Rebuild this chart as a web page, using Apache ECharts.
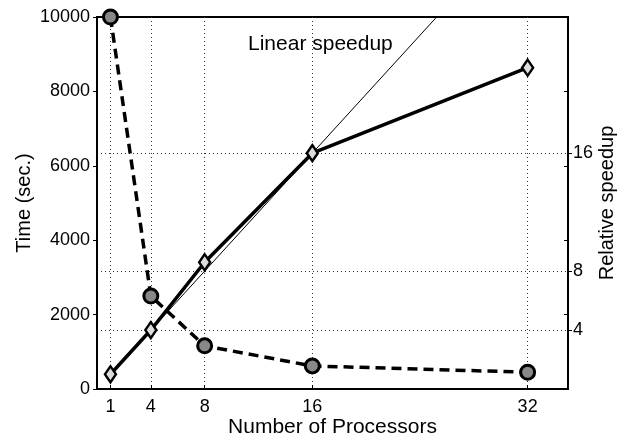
<!DOCTYPE html>
<html>
<head>
<meta charset="utf-8">
<script src="https://cdn.jsdelivr.net/npm/echarts@6/dist/echarts.min.js"></script>
<style>
html,body{margin:0;padding:0;background:#fff;}
#chart{width:617px;height:438px;}
</style>
</head>
<body>
<div id="chart"></div>
<script>
// Data
const processors = [1, 4, 8, 16, 32];
const timeSec = [10000, 2500, 1160, 620, 450];
const relSpeedup = [1, 4, 8.6, 16, 21.8];
const linearX = [1, 32];
const linearY = [1, 32];
const xTicks = [1, 4, 8, 16, 32];
const speedupTicks = [4, 8, 16];
const timeTicksInterval = 2000;

const FONT = '"Liberation Sans", Arial, Helvetica, sans-serif';
const dotted = { color: '#333', width: 1, type: [1, 3] };

const chart = echarts.init(document.getElementById('chart'), null, { renderer: 'canvas' });
chart.setOption({
  animation: false,
  backgroundColor: '#fff',
  textStyle: { fontFamily: FONT },
  grid: { left: 97, right: 49, top: 17, bottom: 49, containLabel: false, outerBoundsMode: 'none',
          show: true, borderColor: '#000', borderWidth: 2, backgroundColor: 'transparent' },
  xAxis: {
    type: 'value', min: 0, max: 35,
    name: 'Number of Processors', nameLocation: 'middle', nameGap: 28, nameMoveOverlap: false,
    nameTextStyle: { fontSize: 21, color: '#000', fontFamily: FONT },
    axisLine: { show: true, lineStyle: { color: '#000', width: 2 } },
    axisTick: { show: true, inside: true, length: 4, customValues: xTicks, lineStyle: { color: '#000', width: 1 } },
    axisLabel: { customValues: xTicks, fontSize: 18, color: '#000', margin: 9, fontFamily: FONT },
    splitLine: { show: true, lineStyle: dotted }
  },
  yAxis: [
    {
      type: 'value', position: 'left', min: 0, max: 10000, interval: timeTicksInterval,
      name: 'Time (sec.)', nameLocation: 'middle', nameGap: 63, nameMoveOverlap: false,
      nameTextStyle: { fontSize: 20, color: '#000', fontFamily: FONT },
      axisLine: { show: true, lineStyle: { color: '#000', width: 2 } },
      axisTick: { show: true, inside: false, length: 4, lineStyle: { color: '#000', width: 1 } },
      axisLabel: { fontSize: 18, color: '#000', margin: 7, fontFamily: FONT, formatter: v => String(v) },
      splitLine: { show: false }
    },
    {
      type: 'value', position: 'right', min: 0, max: 25.24,
      name: 'Relative speedup', nameLocation: 'middle', nameGap: 29, nameMoveOverlap: false,
      nameTextStyle: { fontSize: 20, color: '#000', fontFamily: FONT },
      axisLine: { show: true, lineStyle: { color: '#000', width: 2 } },
      axisTick: { show: true, inside: false, length: 4, customValues: speedupTicks, lineStyle: { color: '#000', width: 1 } },
      axisLabel: { customValues: speedupTicks, fontSize: 18, color: '#000', margin: 5, fontFamily: FONT, formatter: v => String(v) },
      splitLine: { show: true, lineStyle: dotted }
    },
    {
      type: 'value', position: 'right', min: 0, max: 10000, interval: timeTicksInterval,
      axisLine: { show: false },
      axisTick: { show: true, inside: true, length: 4, lineStyle: { color: '#000', width: 1 } },
      axisLabel: { show: false },
      splitLine: { show: false }
    }
  ],
  graphic: [
    { type: 'text', left: 248, top: 34, style: { text: 'Linear speedup', fontSize: 21, fill: '#000', fontFamily: FONT } }
  ],
  series: [
    {
      name: 'Linear speedup', type: 'line', yAxisIndex: 1, z: 2,
      data: linearX.map((x, i) => [x, linearY[i]]),
      symbol: 'none', clip: true,
      lineStyle: { color: '#000', width: 1 }
    },
    {
      name: 'Relative speedup', type: 'line', yAxisIndex: 1, z: 3,
      data: processors.map((x, i) => [x, relSpeedup[i]]),
      symbol: 'diamond', symbolSize: [11, 16],
      itemStyle: { color: '#ddd', borderColor: '#000', borderWidth: 2.5 },
      lineStyle: { color: '#000', width: 3.5 }
    },
    {
      name: 'Time', type: 'line', yAxisIndex: 0, z: 4,
      data: processors.map((x, i) => [x, timeSec[i]]),
      symbol: 'circle', symbolSize: 14, clip: false,
      itemStyle: { color: '#888', borderColor: '#000', borderWidth: 3 },
      lineStyle: { color: '#000', width: 3.5, type: [10, 6] }
    }
  ]
});
</script>
</body>
</html>
